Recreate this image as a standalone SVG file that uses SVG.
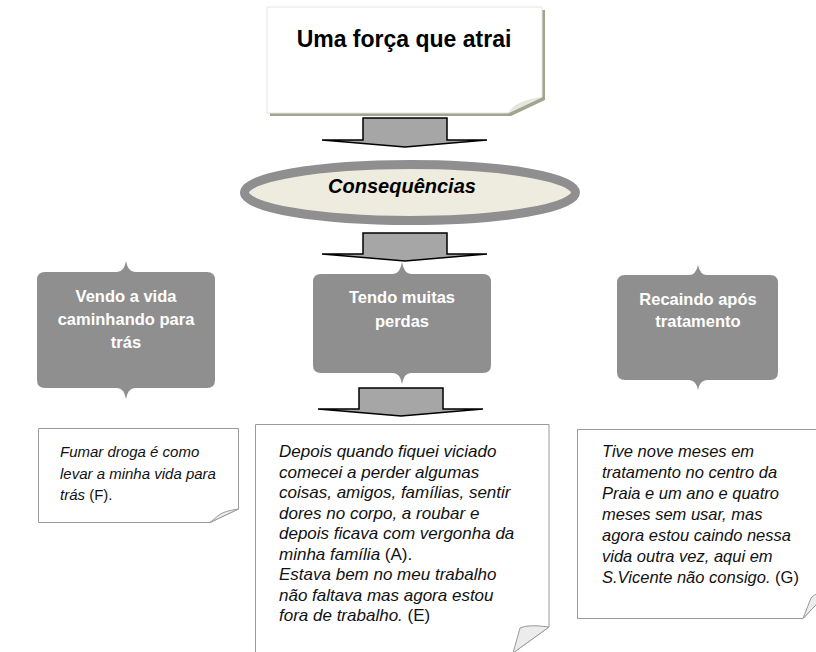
<svg xmlns="http://www.w3.org/2000/svg" width="816" height="652" viewBox="0 0 816 652">
<style>
.t{font-family:"Liberation Sans",Arial,sans-serif}
.bx{fill:#8f8f8f}
.bt{font-family:"Liberation Sans",Arial,sans-serif;font-weight:bold;font-size:16.5px;fill:#ffffff;text-anchor:middle}
.note{fill:#ffffff;stroke:#9a9a9a;stroke-width:1}
.flap{fill:#ececec;stroke:#9a9a9a;stroke-width:1}
.nt{font-family:"Liberation Sans",Arial,sans-serif;fill:#111111}
.it{font-style:italic}
.arr{fill:#a6a6a6;stroke:#000000;stroke-width:1.5}
</style>
<rect width="816" height="652" fill="#ffffff"/>
<g id="title">
<path d="M270 10 H545 V100 L511 116 H270 Z" fill="#a0a68d"/>
<path d="M267 7 H542 V97 L508 113 H267 Z" fill="#ffffff" stroke="#e4e4e4" stroke-width="1"/>
<path d="M542 97 Q520 100 512 108 L508 113 Z" fill="#e6e6e0"/>
<text class="t" x="404" y="47" font-size="23" font-weight="bold" text-anchor="middle" fill="#000">Uma força que atrai</text>
</g>
<g id="connectors">
<path class="arr" d="M363 118 H447 V140 H487 L405 147 L322 140 H363 Z"/>
<path class="arr" d="M363 233 H447 V254 H487 L405 261 L322 254 H363 Z"/>
<path class="arr" d="M359 388 H443 V409 H483 L401 416 L318 409 H359 Z"/>
</g>
<g id="consequencias">
<ellipse cx="410" cy="192.5" rx="165.5" ry="28" fill="#edecdf" stroke="#8f8f8f" stroke-width="9"/>
<text class="t" x="402" y="193" font-size="20" font-weight="bold" font-style="italic" text-anchor="middle" fill="#000">Consequências</text>
</g>
<g id="box-vendo">
<path class="bx" d="M45 272 H117 Q124 272 126 261 Q128 272 135 272 H207 Q215 272 215 280 V380 Q215 388 207 388 H135 Q128 388 126 399 Q124 388 117 388 H45 Q37 388 37 380 V280 Q37 272 45 272 Z"/>
<text class="bt" x="126" y="302">Vendo a vida</text>
<text class="bt" x="126" y="325">caminhando para</text>
<text class="bt" x="126" y="348">trás</text>
</g>
<g id="box-tendo">
<path class="bx" d="M321 274 H393 Q400 274 402 262 Q404 274 411 274 H483 Q491 274 491 282 V365 Q491 373 483 373 H411 Q404 373 402 384 Q400 373 393 373 H321 Q313 373 313 365 V282 Q313 274 321 274 Z"/>
<text class="bt" x="402" y="303">Tendo muitas</text>
<text class="bt" x="402" y="327">perdas</text>
</g>
<g id="box-recaindo">
<path class="bx" d="M625 275 H689 Q696 275 698 265 Q700 275 707 275 H770 Q778 275 778 283 V372 Q778 380 770 380 H707 Q700 380 698 390 Q696 380 689 380 H625 Q617 380 617 372 V283 Q617 275 625 275 Z"/>
<text class="bt" x="698" y="305">Recaindo após</text>
<text class="bt" x="698" y="327">tratamento</text>
</g>
<g id="note-f">
<path class="note" d="M38.5 428.5 H238.5 V509 L210 522.5 H38.5 Z"/>
<path class="flap" d="M238.5 509 Q224 511 219 515 L210 522.5 Z"/>
<text class="nt" font-size="15"><tspan class="it" x="60" y="457">Fumar droga é como</tspan><tspan class="it" x="60" y="478.5">levar a minha vida para</tspan><tspan x="60" y="500"><tspan class="it">trás</tspan> (F).</tspan></text>
</g>
<g id="note-a">
<path class="note" d="M255.5 424.5 H549 V627 L513 653 H255.5 Z"/>
<path class="flap" d="M549 627 Q528 624 520 628 L513 653 Z"/>
<text class="nt it" font-size="17"><tspan x="279" y="457">Depois quando fiquei viciado</tspan><tspan x="279" y="477.5">comecei a perder algumas</tspan><tspan x="279" y="498">coisas, amigos, famílias, sentir</tspan><tspan x="279" y="518.5">dores no corpo, a roubar e</tspan><tspan x="279" y="539">depois ficava com vergonha da</tspan><tspan x="279" y="559.5">minha família <tspan font-style="normal">(A).</tspan></tspan><tspan x="279" y="580">Estava bem no meu trabalho</tspan><tspan x="279" y="600.5">não faltava mas agora estou</tspan><tspan x="279" y="621">fora de trabalho. <tspan font-style="normal">(E)</tspan></tspan></text>
</g>
<g id="note-g">
<path class="note" d="M577.5 429.5 H832 V588 L803 618.5 H577.5 Z"/>
<path class="flap" d="M832 588 Q816 592 811 598 L803 618.5 Z"/>
<text class="nt it" font-size="16.5"><tspan x="602" y="457">Tive nove meses em</tspan><tspan x="602" y="478">tratamento no centro da</tspan><tspan x="602" y="499">Praia e um ano e quatro</tspan><tspan x="602" y="520">meses sem usar, mas</tspan><tspan x="602" y="541">agora estou caindo nessa</tspan><tspan x="602" y="562">vida outra vez, aqui em</tspan><tspan x="602" y="583">S.Vicente não consigo. <tspan font-style="normal">(G)</tspan></tspan></text>
</g>
</svg>
